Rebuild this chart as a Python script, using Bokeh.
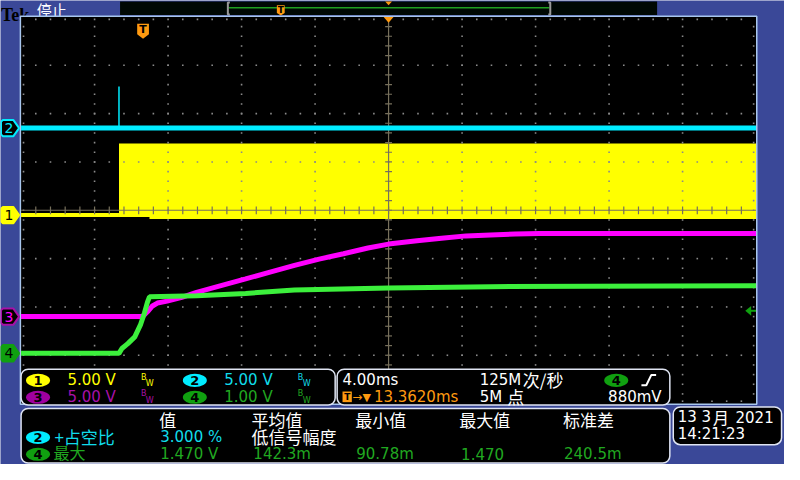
import numpy as np
from bokeh.plotting import figure
from bokeh.models import Range1d
from bokeh.embed import file_html
from bokeh.resources import INLINE
from bokeh.core.properties import value

# ---------------- scope settings ----------------
time_per_div_ms = 4.0
trigger_to_center_ms = 13.362
ch_scale = {1: 5.0, 2: 5.0, 3: 5.0, 4: 1.0}          # V/div
ch_position = {1: -0.1, 2: 1.7, 3: -2.2, 4: -2.96}   # div from centre
trigger_level_v = 0.88

# ---------------- traces (time in ms from trigger, volts) ----------------
# CH1 yellow: idle, then PWM burst drawn as an envelope
ch1_idle_t = [-6.64, -1.31]
ch1_idle_v = [0.0, 0.0]
ch1_burst_t = [-1.31, 0.35, 0.35, 33.36]
ch1_burst_low = [-0.2, -0.2, -0.4, -0.4]
ch1_burst_high = [7.4, 7.4, 7.4, 7.4]

# CH2 cyan
ch2_t = [-6.64, 33.36]
ch2_v = [0.0, 0.0]
ch2_spike_t = [-1.31]
ch2_spike_v = [4.3]

# CH3 magenta
ch3_t = [-6.64, -0.03, 0.24, 0.51, 0.78, 1.31, 2.11, 2.91, 4.24, 5.58, 6.91, 8.24,
         9.58, 10.91, 12.24, 13.36, 14.91, 16.24, 17.58, 18.91, 20.24, 21.58, 24.24, 33.36]
ch3_v = [0.0, 0.0, 0.5, 1.1, 1.4, 1.6, 2.0, 2.5, 3.2, 3.9, 4.6, 5.3,
         5.95, 6.5, 7.1, 7.5, 7.85, 8.1, 8.35, 8.45, 8.55, 8.6, 8.6, 8.6]

# CH4 green
ch4_t = [-6.64, -1.31, -1.15, -0.83, -0.45, -0.13, 0.08, 0.24, 0.35, 2.91, 5.58,
         8.24, 13.36, 18.91, 24.24, 33.36]
ch4_v = [0.0, 0.0, 0.10, 0.20, 0.34, 0.60, 0.84, 1.06, 1.17, 1.19, 1.24,
         1.31, 1.35, 1.38, 1.39, 1.40]

# ---------------- readout texts ----------------
ch_readout = [("1", "5.00 V"), ("2", "5.00 V"), ("3", "5.00 V"), ("4", "1.00 V")]
meas_headers = ["值", "平均值", "最小值", "最大值", "标准差"]
meas_row1 = ["+占空比", "3.000 %", "低信号幅度"]
meas_row2 = ["最大", "1.470 V", "142.3m", "90.78m", "1.470", "240.5m"]

# ---------------- colours ----------------
BLUE = "#3a4898"
YEL = "#ffff00"
CYA = "#00ecff"
MAG = "#ff00ff"
GRN = "#3cf03c"
CYA_T = "#10dcea"
MAG_T = "#a810a8"
GRN_T = "#20a820"
GRN_B = "#10a010"
ORG = "#ff9a10"
BORDER = "#a8c6ee"
PANEL = "#dfe4f2"
GRID = "#8a8a8a"
CENTER = "#77705c"

PXMS = 75.0 / time_per_div_ms      # screen px per ms
PXDIV = 50.0                        # screen px per div


def X(px):
    return (px - 396.0) / PXMS + trigger_to_center_ms


def Y(py):
    return (217.0 - py) / PXDIV


def dv(ch, v):
    return np.asarray(v, dtype=float) / ch_scale[ch] + ch_position[ch]


t_left = trigger_to_center_ms - 5 * time_per_div_ms
t_right = trigger_to_center_ms + 5 * time_per_div_ms

p = figure(width=784, height=464, x_range=Range1d(X(0), X(800)), y_range=Range1d(Y(480), Y(0)),
           output_backend="svg", toolbar_location=None, x_axis_type=None, y_axis_type=None,
           min_border=0, background_fill_color=BLUE, border_fill_color=BLUE,
           outline_line_color=None)
p.grid.visible = False

DJ = "DejaVu Sans"
CJK = "Noto Sans CJK SC"


def txt(px, py, s, color, size=15, font=DJ, align="left", baseline="middle", style="normal"):
    p.text(x=[X(px)], y=[Y(py)], text=[s], text_color=color, text_font=value(font),
           text_font_size=value(f"{size}px"), text_align=align, text_baseline=baseline,
           text_font_style=style)


def box(l, t, r, b, fill, line=None, lw=1.5, radius=0):
    p.quad(left=[X(l)], right=[X(r)], top=[Y(t)], bottom=[Y(b)], fill_color=fill,
           line_color=line, line_width=lw, border_radius=radius)


def badge(cx, cy, label, fill, tcolor="black"):
    p.ellipse(x=[X(cx)], y=[Y(cy)], width=24.5 / PXMS, height=13.5 / PXDIV,
              fill_color=fill, line_color=None)
    txt(cx, cy + 0.5, label, tcolor, 13, DJ, "center", "middle", "bold")


# ---------------- top bar ----------------
txt(0.5, 15, "Tek", "black", 18, "Liberation Serif", "left", "alphabetic", "bold")
txt(37, 9, "停止", "white", 15, CJK)
box(122, 1, 670, 15, "#000804")
p.segment(x0=[X(233)], y0=[Y(7.5)], x1=[X(560)], y1=[Y(7.5)], line_color="#20a020", line_width=1.5)
for bx, dx in ((232, 1), (561, -1)):
    p.line(x=[X(bx + 2 * dx), X(bx), X(bx), X(bx + 2 * dx)], y=[Y(2), Y(2), Y(14.5), Y(14.5)],
           line_color="#9a9a9a", line_width=2)
p.patch(x=[X(282), X(290), X(290), X(286), X(282)], y=[Y(5), Y(5), Y(13), Y(15.5), Y(13)],
        fill_color=ORG, line_color=None)
txt(286, 9.8, "T", "black", 9, DJ, "center", "middle", "bold")
p.patch(x=[X(392.5), X(399.5), X(396)], y=[Y(1), Y(1), Y(5)], fill_color=ORG, line_color=None)

# ---------------- graticule ----------------
p.quad(left=[t_left - 0.7 / PXMS], right=[t_right + 0.7 / PXMS], top=[4 + 0.7 / PXDIV],
       bottom=[-4 - 0.7 / PXDIV], fill_color="black", line_color=BORDER, line_width=1.5)

# CH1 yellow (drawn under the graticule dots)
p.varea(x=ch1_burst_t, y1=dv(1, ch1_burst_low), y2=dv(1, ch1_burst_high), fill_color=YEL)
p.line(x=ch1_idle_t, y=dv(1, ch1_idle_v), line_color=YEL, line_width=4)

gx, gy = [], []
for i in range(1, 10):
    if i == 5:
        continue
    for k in range(1, 40):
        gx.append(t_left + i * time_per_div_ms)
        gy.append(-4 + k * 0.2)
for j in range(1, 8):
    if j == 4:
        continue
    for k in range(1, 50):
        gx.append(t_left + k * time_per_div_ms / 5)
        gy.append(-4 + j)
for k in range(1, 50):
    gx += [t_left + k * time_per_div_ms / 5] * 2
    gy += [4 - 2.5 / PXDIV, -4 + 2.5 / PXDIV]
for k in range(1, 40):
    gx += [t_left + 2.5 / PXMS, t_right - 2.5 / PXMS]
    gy += [-4 + k * 0.2] * 2
p.scatter(x=gx, y=gy, marker="square", size=1.6, color=GRID, line_color=None)

# centre cross with ticks
p.segment(x0=[t_left], y0=[0], x1=[t_right], y1=[0], line_color=CENTER, line_width=1.2)
p.segment(x0=[trigger_to_center_ms], y0=[-4], x1=[trigger_to_center_ms], y1=[4],
          line_color=CENTER, line_width=1.2)
tk = [t_left + k * time_per_div_ms / 5 for k in range(1, 50)]
p.segment(x0=tk, y0=[-4 / PXDIV] * len(tk), x1=tk, y1=[4 / PXDIV] * len(tk),
          line_color=CENTER, line_width=1.2)
vk = [-4 + k * 0.2 for k in range(1, 40)]
p.segment(x0=[trigger_to_center_ms - 3.5 / PXMS] * len(vk), y0=vk,
          x1=[trigger_to_center_ms + 3.5 / PXMS] * len(vk), y1=vk,
          line_color=CENTER, line_width=1.2)

# ---------------- traces ----------------
p.line(x=ch2_t, y=dv(2, ch2_v), line_color=CYA, line_width=5)
p.segment(x0=ch2_spike_t, y0=dv(2, [0.0]), x1=ch2_spike_t, y1=dv(2, ch2_spike_v),
          line_color=CYA, line_width=1.5)
p.line(x=ch3_t, y=dv(3, ch3_v), line_color=MAG, line_width=5)
p.line(x=ch4_t, y=dv(4, ch4_v), line_color=GRN, line_width=5)

# ---------------- markers ----------------
# trigger position "T"
tT = 0.0
p.patch(x=[tT - 6 / PXMS, tT + 6 / PXMS, tT + 6 / PXMS, tT, tT - 6 / PXMS],
        y=[Y(24), Y(24), Y(35), Y(39.5), Y(35)], fill_color=ORG, line_color=None)
txt(396 + (tT - trigger_to_center_ms) * PXMS, 30.5, "T", "black", 11, DJ, "center", "middle", "bold")
# expansion point
p.patch(x=[X(391), X(401), X(396)], y=[Y(17), Y(17), Y(23)], fill_color=ORG, line_color=None)

# channel ground markers at the left
mk_shape_x = [0.5, 2.5, 13, 19, 13, 2.5, 0.5]
mk_shape_dy = [-6.5, -8.5, -8.5, 0, 8.5, 8.5, 6.5]
for ch, lab, fill, line, tc in ((2, "2", "black", CYA, CYA), (1, "1", YEL, YEL, "black"),
                                (3, "3", "black", MAG_T, MAG), (4, "4", GRN_B, GRN_B, "black")):
    yc = ch_position[ch]
    p.patch(x=[X(v) for v in mk_shape_x], y=[yc - d / PXDIV for d in mk_shape_dy],
            fill_color=fill, line_color=line, line_width=2)
    p.text(x=[X(8.5)], y=[yc], text=[lab], text_color=tc, text_font=value(DJ),
           text_font_size=value("14px"), text_align="center", text_baseline="middle")

# trigger level arrow on the right
yl = dv(4, [trigger_level_v])[0]
p.patch(x=[X(760), X(766), X(766)], y=[yl, yl + 5 / PXDIV, yl - 5 / PXDIV],
        fill_color=GRN_B, line_color=None)
p.segment(x0=[X(765)], y0=[yl], x1=[X(771)], y1=[yl], line_color=GRN_B, line_width=2)

# ---------------- readout panels ----------------
box(21, 381.5, 341.5, 418.5, "black", PANEL, 1.5, 7)
box(343.5, 381.5, 683, 418.5, "black", PANEL, 1.5, 7)
box(21, 422, 683, 478.5, "black", PANEL, 1.5, 7)
box(686.5, 420.5, 797, 459.5, "black", PANEL, 1.5, 7)

rows = {"1": (38.3, 393, YEL, YEL), "2": (198.3, 393, CYA, CYA_T),
        "3": (38.3, 410.5, "#a000a0", MAG_T), "4": (198.3, 410.5, GRN_B, GRN_T)}
for ch, s in ch_readout:
    cx, cy, bf, tc = rows[ch]
    badge(cx, cy, ch, bf)
    txt(cx + 30, cy, s, tc, 15)
    txt(cx + 105, cy - 3.5, "B", tc, 8)
    txt(cx + 110, cy + 3.5, "W", tc, 8)

txt(349, 393, "4.00ms", "white", 15)
txt(489, 393, "125M", "white", 15)
txt(533, 392.5, "次/秒", "white", 17, CJK)
badge(628.3, 393, "4", GRN_B)
p.line(x=[X(654), X(659), X(664), X(669)], y=[Y(398), Y(398), Y(387.5), Y(387.5)],
       line_color="white", line_width=2)
box(349, 404.5, 358.5, 415.5, ORG)
txt(353.8, 410.3, "T", "black", 9, DJ, "center", "middle", "bold")
txt(359, 410.5, "→", ORG, 12)
txt(369.5, 410.5, "▼", ORG, 11)
txt(381, 410.5, "13.3620ms", ORG, 15)
txt(489, 410.5, "5M", "white", 15)
txt(517, 410, "点", "white", 17, CJK)
txt(620, 410.5, "880mV", "white", 15)

hx = [162, 256, 362, 468, 574]
for x0, h in zip(hx, meas_headers):
    txt(x0, 433, h, "white", 17, CJK)
badge(38.3, 452, "2", CYA)
txt(55, 451.5, meas_row1[0], CYA_T, 17, CJK)
txt(163, 452, meas_row1[1], CYA_T, 15)
txt(256, 451.5, meas_row1[2], "white", 17, CJK)
badge(38.3, 469.5, "4", GRN_B)
txt(54, 467.5, meas_row2[0], GRN_T, 16, CJK)
for x0, s in zip([163, 258, 363, 470, 575], meas_row2[1:]):
    txt(x0, 469, s, GRN_T, 15)

txt(691, 431, "13 3", "white", 15)
txt(727, 430.5, "月", "white", 16, CJK)
txt(750, 431, "2021", "white", 15)
txt(691, 448, "14:21:23", "white", 15)

open("out.html", "w").write(file_html(p, INLINE))
